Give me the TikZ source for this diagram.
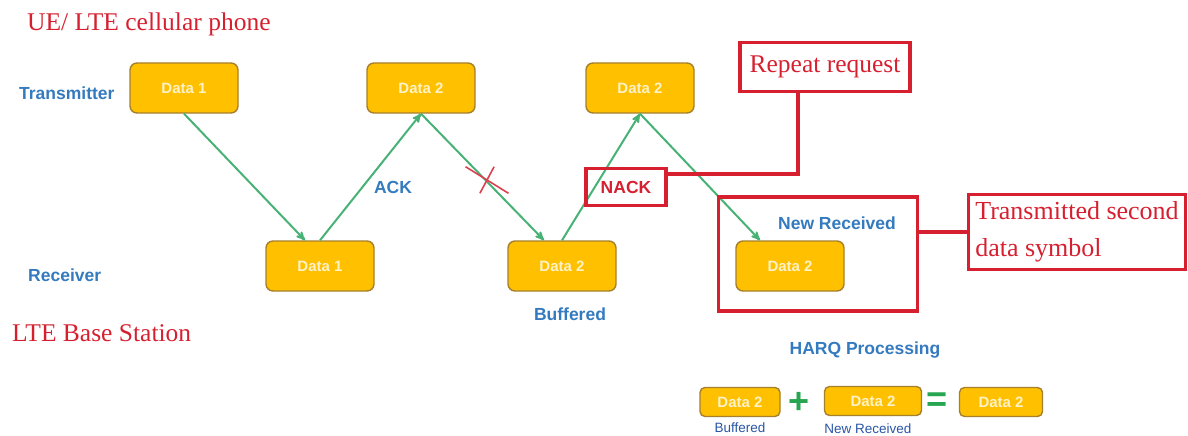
\documentclass[tikz,border=0pt]{standalone}
\usepackage{fontspec}
\setmainfont{Liberation Serif}
\setsansfont{Liberation Sans}
\usepackage{tikz}
\usetikzlibrary{arrows, shapes, positioning}
\definecolor{harqred}{RGB}{214,32,48}
\definecolor{harqblue}{RGB}{52,122,190}
\definecolor{harqdark}{RGB}{40,85,165}
\definecolor{harqgreen}{RGB}{72,178,118}
\definecolor{harqplus}{RGB}{40,165,80}
\definecolor{harqgold}{RGB}{255,192,0}
\definecolor{harqedge}{RGB}{165,128,45}
\definecolor{harqtext}{RGB}{255,242,200}

\begin{document}
\begin{tikzpicture}[x=1pt, y=-1pt, on grid,
		databox/.style={draw=harqedge, line width=1.4pt, fill=harqgold, rounded corners=7pt,
			minimum width=108pt, minimum height=50pt, text=harqtext,
			font=\sffamily\bfseries\fontsize{15}{17}\selectfont},
		smallbox/.style={databox, rounded corners=5pt, minimum width=80pt, minimum height=29pt},
		bluelabel/.style={text=harqblue, inner sep=0pt, font=\sffamily\bfseries\fontsize{17.5}{20}\selectfont},
		smalllabel/.style={text=harqdark, inner sep=0pt, font=\sffamily\fontsize{13.5}{15}\selectfont},
		redtitle/.style={text=harqred, font=\fontsize{25.5}{30}\selectfont},
		redbox/.style={draw=harqred, line width=3.5pt},
		redline/.style={draw=harqred, line width=3.5pt},
		link/.style={draw=harqgreen, line width=2pt, -stealth'},
		sign/.style={text=harqplus, inner sep=0pt, font=\sffamily\bfseries\fontsize{36}{36}\selectfont}
	]
	\useasboundingbox (0,0) rectangle (1188,436);

	\node[redtitle, inner sep=0pt, anchor=west] (ue) at (27,24) {UE/ LTE cellular phone};
	\node[bluelabel, anchor=west] (tx) at (19,93) {Transmitter};
	\node[bluelabel, anchor=west] (rx) at (28,275) {Receiver};
	\node[redtitle, inner sep=0pt, anchor=west] (bs) at (12,333) {LTE Base Station};

	\node[databox] (tx1) at (184,88) {Data 1};
	\node[databox, right=237pt of tx1] (tx2) {Data 2};
	\node[databox, right=219pt of tx2] (tx3) {Data 2};
	\node[databox, below right=178pt and 136pt of tx1] (rx1) {Data 1};
	\node[databox, right=242pt of rx1] (rx2) {Data 2};
	\node[databox, right=228pt of rx2] (rx3) {Data 2};

	\draw[link] (tx1.south) -- ([xshift=-15pt]rx1.north);
	\draw[link] (rx1.north) -- (tx2.south);
	\draw[link] (tx2.south) -- ([xshift=-18pt]rx2.north);
	\draw[link] (rx2.north) -- (tx3.south);
	\draw[link] (tx3.south) -- ([xshift=-30pt]rx3.north);

	\node[cross out, draw=harqred!85, line width=1.6pt, minimum width=27pt, minimum height=25pt,
		inner sep=0pt, xslant=-0.54] (lost) at (487,180) {};

	\node[bluelabel] (ack) at (393,187) {ACK};
	\node[redbox, text=harqred, font=\sffamily\bfseries\fontsize{17.5}{20}\selectfont,
		minimum width=80pt, minimum height=37pt] (nack) at (626,187) {NACK};
	\node[bluelabel] (buf) at (570,314) {Buffered};

	\node[redbox, redtitle, minimum width=170pt, minimum height=49pt] (repeat) at (825,67) {Repeat request};
	\draw[redline] ([xshift=-27pt]repeat.south) |- ([yshift=13pt]nack.east);

	\node[redbox, minimum width=199pt, minimum height=114pt] (newbox) at (818,254) {};
	\node[bluelabel] (newrx) at (837,223) {New Received};
	\node[redbox, text=harqred, font=\fontsize{26}{37}\selectfont, align=left, inner xsep=2pt,
		minimum width=217pt, minimum height=75pt] (sent) at (1077,232) {Transmitted second\\data symbol};
	\draw[redline] (sent.west) -- (sent.west -| newbox.east);

	\node[bluelabel] (harq) at (865,350) {HARQ Processing};
	\node[smallbox] (sum1) at (740,402) {Data 2};
	\node[sign] (plus) at (799,403) {+};
	\node[smallbox, minimum width=97pt] (sum2) at (873,401) {Data 2};
	\node[sign] (equal) at (937,402) {=};
	\node[smallbox, minimum width=83pt] (sum3) at (1001,402) {Data 2};
	\node[smalllabel] (buf2) at (740,428) {Buffered};
	\node[smalllabel] (newrx2) at (868,429) {New Received};
\end{tikzpicture}
\end{document}
